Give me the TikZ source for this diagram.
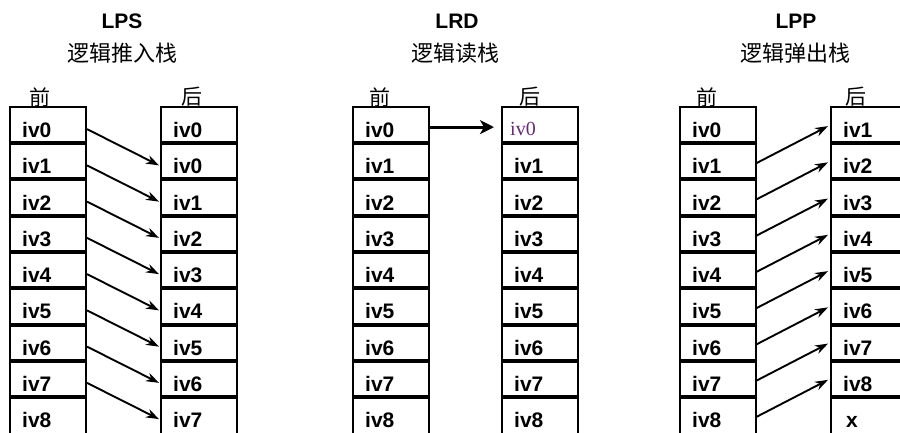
\documentclass[tikz,border=0pt]{standalone}
\usepackage{fontspec}
\setmainfont{Liberation Sans}
\newfontfamily\cjkfont{Noto Sans CJK SC}
\newfontfamily\myserif{Liberation Serif}
\usetikzlibrary{arrows.meta}
\definecolor{ivpurple}{RGB}{105,40,125}
\begin{document}
\begin{tikzpicture}[x=1pt,y=-1pt,
  cell/.style={minimum width=76pt,minimum height=36.25pt,inner sep=0pt,outer sep=0pt},
  val/.style={anchor=base west,inner sep=0pt,font=\fontsize{21}{21}\selectfont\bfseries},
  ttl/.style={anchor=base,inner sep=0pt,font=\fontsize{21}{21}\selectfont\bfseries},
  sub/.style={inner sep=0pt,font=\fontsize{22}{22}\selectfont\cjkfont},
  hdr/.style={inner sep=0pt,font=\fontsize{21}{21}\selectfont\cjkfont},
  boxline/.style={line width=1.3pt},
  sepline/.style={line width=4pt},
  arr/.style={line width=1.9pt,-{Stealth[length=13pt,width=9pt]}},
  bigarr/.style={line width=2.8pt,-{Stealth[length=14pt,width=14pt,inset=4pt]}}]
\useasboundingbox (0,0) rectangle (900,433);
\clip (0,0) rectangle (900,433);
\fill[white] (0,0) rectangle (900,433);
% titles
\node[ttl] (tLPS) at (122,28.3) {LPS};
\node[sub] (sLPS) at (122,53) {逻辑推入栈};
\node[ttl] (tLRD) at (457,28.3) {LRD};
\node[sub] (sLRD) at (455,53) {逻辑读栈};
\node[ttl] (tLPP) at (796,28.3) {LPP};
\node[sub] (sLPP) at (795,53) {逻辑弹出栈};
% headers
\node[hdr] (hA) at (40,97) {前};
\node[hdr] (hB) at (192,97) {后};
\node[hdr] (hC) at (380,97) {前};
\node[hdr] (hD) at (530,97) {后};
\node[hdr] (hE) at (707,97) {前};
\node[hdr] (hF) at (856,97) {后};
% cells
\foreach \n/\L in {A/10,B/161,C/353,D/502,E/680,F/831}{
  \foreach \i in {0,...,8}{
    \node[cell] (\n\i) at (\L+38,{107+36.25*\i+18.125}) {};
  }
  \draw[boxline] (\n8.south west) |- (\n0.north east) -- (\n8.south east);
  \foreach \i in {0,...,7}{
    \draw[sepline] (\n\i.south west) -- (\n\i.south east);
  }
}
% values
\foreach \i in {0,...,8}{
  \node[val] (vA\i) at ([xshift=12pt,yshift=-12.5pt]A\i.west) {iv\i};
  \node[val] (vC\i) at ([xshift=12pt,yshift=-12.5pt]C\i.west) {iv\i};
  \node[val] (vE\i) at ([xshift=12pt,yshift=-12.5pt]E\i.west) {iv\i};
}
\node[val] (vB0) at ([xshift=12pt,yshift=-12.5pt]B0.west) {iv0};
\foreach \i [evaluate=\i as \j using int(\i-1)] in {1,...,8}{
  \node[val] (vB\i) at ([xshift=12pt,yshift=-12.5pt]B\i.west) {iv\j};
  \node[val] (vD\i) at ([xshift=12pt,yshift=-12.5pt]D\i.west) {iv\i};
}
\node[val,font=\fontsize{20}{20}\selectfont\myserif,text=ivpurple] (vD0) at ([xshift=8pt,yshift=-10pt]D0.west) {iv0};
\foreach \i [evaluate=\i as \j using int(\i+1)] in {0,...,7}{
  \node[val] (vF\i) at ([xshift=12pt,yshift=-12.5pt]F\i.west) {iv\j};
}
\node[val] (vF8) at ([xshift=15pt,yshift=-12.5pt]F8.west) {x};
% arrows LPS
\foreach \i [evaluate=\i as \j using int(\i+1)] in {0,...,7}{
  \draw[arr] ([xshift=1pt,yshift=-4pt]A\i.east) -- ([xshift=-2pt,yshift=-4pt]B\j.west);
}
% arrow LRD
\draw[bigarr] ([yshift=-2pt]C0.east) -- ([xshift=-8pt,yshift=-2pt]D0.west);
% arrows LPP
\foreach \i [evaluate=\i as \j using int(\i-1)] in {1,...,8}{
  \draw[arr] ([yshift=-2pt]E\i.east) -- ([xshift=-3pt,yshift=-1pt]F\j.west);
}
\end{tikzpicture}
\end{document}
